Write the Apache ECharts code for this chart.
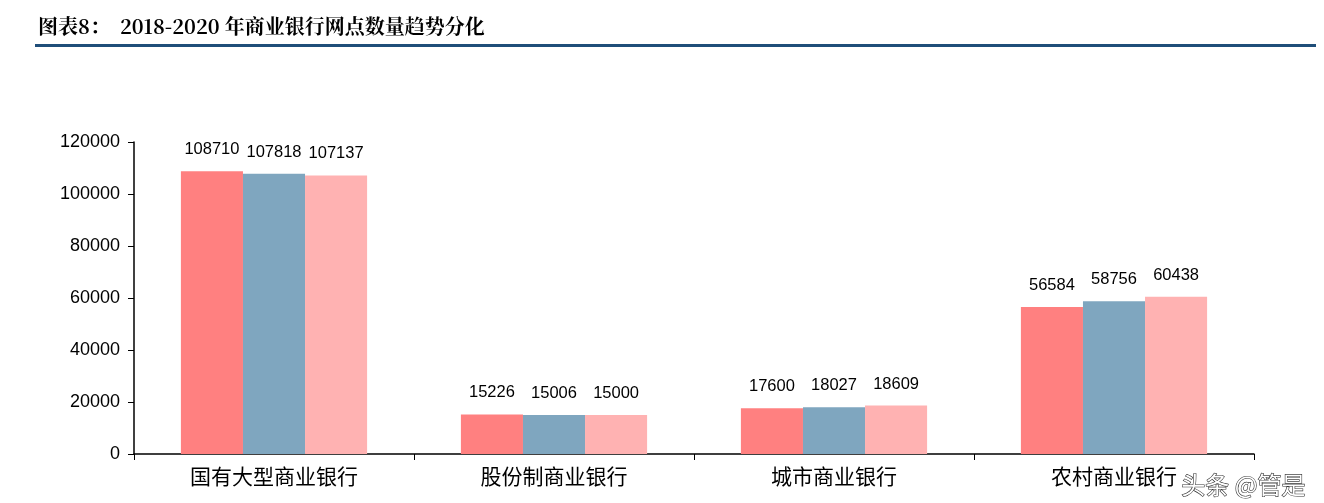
<!DOCTYPE html><html><head><meta charset="utf-8">
<script src="https://cdn.jsdelivr.net/npm/echarts@6/dist/echarts.min.js"></script>
<style>body{margin:0;background:#fff}#c{width:1324px;height:503px}</style></head><body><div id="c"></div>
<script>
const categories=['国有大型商业银行','股份制商业银行','城市商业银行','农村商业银行'];
const s2018=[108710,15226,17600,56584];
const s2019=[107818,15006,18027,58756];
const s2020=[107137,15000,18609,60438];
const years=['2018','2019','2020'];
const colors=['#FF8080','#7FA6BF','#FFB2B2'];
const chart=echarts.init(document.getElementById('c'));
const lbl={show:true,position:'top',color:'#000',fontSize:16.5,fontFamily:'Liberation Sans, Arial',distance:13};
chart.setOption({
 animation:false,
 title:{text:'图表8：  2018-2020 年商业银行网点数量趋势分化',left:33,top:11,textStyle:{fontSize:20,fontWeight:'bold',color:'#000',fontFamily:'Noto Serif CJK SC, Noto Sans CJK SC, serif'}},
 graphic:[{type:'rect',shape:{x:35,y:44,width:1281,height:3},style:{fill:'#1F4E79'}},
  {type:'text',right:18,bottom:6,style:{text:'头条 @管是',fontSize:24,fill:'#fff',stroke:'#333',lineWidth:1.2,fontFamily:'Noto Sans CJK SC'}}],
 legend:{show:false},
 grid:{left:134,right:70,top:142,bottom:49,containLabel:false},
 xAxis:{type:'category',data:categories,axisLine:{lineStyle:{color:'#000',width:1.5}},axisTick:{show:true,length:6,lineStyle:{color:'#000'}},
  axisLabel:{color:'#000',fontSize:21,margin:12,fontFamily:'Noto Sans CJK SC'}},
 yAxis:{type:'value',min:0,max:120000,interval:20000,splitLine:{show:false},axisLine:{show:true,lineStyle:{color:'#000',width:1.5}},
  axisTick:{show:true,length:6,lineStyle:{color:'#000'}},axisLabel:{formatter:v=>String(v),color:'#000',fontSize:18,margin:14,fontFamily:'Liberation Sans, Arial'}},
 series:[s2018,s2019,s2020].map((d,i)=>({name:years[i],type:'bar',data:d,barGap:'0%',barCategoryGap:'33.5%',itemStyle:{color:colors[i]},label:lbl}))
});
</script></body></html>
